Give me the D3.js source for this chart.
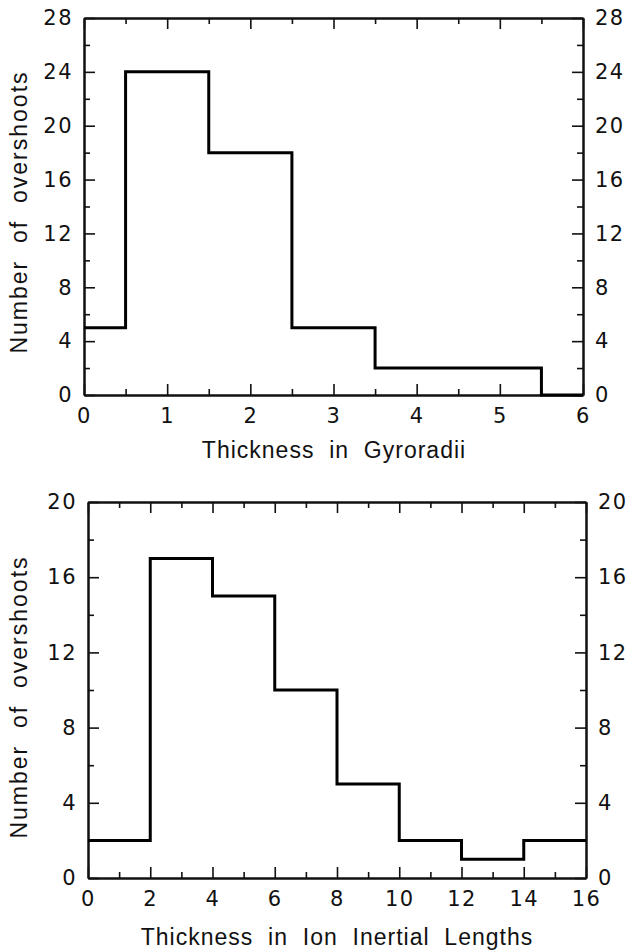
<!DOCTYPE html>
<html>
<head>
<meta charset="utf-8">
<script src="https://cdn.jsdelivr.net/npm/d3@7"></script>
<style>
  body { margin: 0; background: #fff; }
  svg text { font-family: "Liberation Sans", Arial, sans-serif; fill: #111; }
  svg .tick text { font-family: "DejaVu Sans", sans-serif; }
</style>
</head>
<body>
<div id="chart"></div>
<script>
// top panel: thickness in gyroradii
const gyroEdges = [0, 0.5, 1.5, 2.5, 3.5, 4.5, 5.5, 6];
const gyroCounts = [5, 24, 18, 5, 2, 2, 0];
const gyroXTicks = [0, 1, 2, 3, 4, 5, 6];
const gyroXMinor = [0.5, 1.5, 2.5, 3.5, 4.5, 5.5];
const gyroYTicks = [0, 4, 8, 12, 16, 20, 24, 28];
const gyroYMinor = [2, 6, 10, 14, 18, 22, 26];

// bottom panel: thickness in ion inertial lengths
const ionEdges = [0, 2, 4, 6, 8, 10, 12, 14, 16];
const ionCounts = [2, 17, 15, 10, 5, 2, 1, 2];
const ionXTicks = [0, 2, 4, 6, 8, 10, 12, 14, 16];
const ionXMinor = [1, 3, 5, 7, 9, 11, 13, 15];
const ionYTicks = [0, 4, 8, 12, 16, 20];
const ionYMinor = [2, 6, 10, 14, 18];

const W = 627, H = 951;
const svg = d3.select('#chart').append('svg')
    .attr('width', W)
    .attr('height', H);

function drawPanel(cfg) {
    const x = d3.scaleLinear().domain(cfg.xDomain).range([cfg.left, cfg.right]);
    const y = d3.scaleLinear().domain(cfg.yDomain).range([cfg.bottom, cfg.top]);
    const g = svg.append('g');
    const fmt = d3.format('d');

    const major = 11, minor = 6;

    // bottom axis (labels) + top axis (ticks only)
    g.append('g').attr('transform', `translate(0,${cfg.bottom})`)
        .call(d3.axisBottom(x).tickValues(cfg.xTicks).tickFormat(fmt).tickSize(-major).tickPadding(13).tickSizeOuter(0));
    g.append('g').attr('transform', `translate(0,${cfg.bottom})`)
        .call(d3.axisBottom(x).tickValues(cfg.xMinor).tickSize(-minor).tickFormat('').tickSizeOuter(0));
    g.append('g').attr('transform', `translate(0,${cfg.top})`)
        .call(d3.axisTop(x).tickValues(cfg.xTicks).tickSize(-major).tickFormat('').tickSizeOuter(0));
    g.append('g').attr('transform', `translate(0,${cfg.top})`)
        .call(d3.axisTop(x).tickValues(cfg.xMinor).tickSize(-minor).tickFormat('').tickSizeOuter(0));

    // left and right axes, labels on both
    g.append('g').attr('transform', `translate(${cfg.left},0)`)
        .call(d3.axisLeft(y).tickValues(cfg.yTicks).tickFormat(fmt).tickSize(-major).tickPadding(11).tickSizeOuter(0));
    g.append('g').attr('transform', `translate(${cfg.left},0)`)
        .call(d3.axisLeft(y).tickValues(cfg.yMinor).tickSize(-minor).tickFormat('').tickSizeOuter(0));
    g.append('g').attr('transform', `translate(${cfg.right},0)`)
        .call(d3.axisRight(y).tickValues(cfg.yTicks).tickFormat(fmt).tickSize(-major).tickPadding(12).tickSizeOuter(0));
    g.append('g').attr('transform', `translate(${cfg.right},0)`)
        .call(d3.axisRight(y).tickValues(cfg.yMinor).tickSize(-minor).tickFormat('').tickSizeOuter(0));

    g.selectAll('.domain').attr('stroke', '#111').attr('stroke-width', 2);
    g.selectAll('.tick line').attr('stroke', '#111').attr('stroke-width', 1.6);
    g.selectAll('.tick text')
        .attr('font-size', 21)
        .attr('letter-spacing', 1.5)
        .attr('fill', '#111');

    // histogram outline
    const pts = cfg.counts.map((c, i) => [cfg.edges[i], c]);
    pts.push([cfg.edges[cfg.edges.length - 1], cfg.counts[cfg.counts.length - 1]]);
    const line = d3.line()
        .x(d => x(d[0]))
        .y(d => y(d[1]))
        .curve(d3.curveStepAfter);
    g.append('path')
        .datum(pts)
        .attr('fill', 'none')
        .attr('stroke', '#000')
        .attr('stroke-width', 3)
        .attr('d', line);

    // axis titles
    g.append('text')
        .attr('x', cfg.xTitleX)
        .attr('y', cfg.xTitleY)
        .attr('text-anchor', 'middle')
        .attr('font-size', 23)
        .attr('letter-spacing', 1)
        .attr('xml:space', 'preserve')
        .text(cfg.xTitle);
    g.append('text')
        .attr('transform', `translate(27,${cfg.yTitleY}) rotate(-90)`)
        .attr('text-anchor', 'middle')
        .attr('font-size', 23)
        .attr('letter-spacing', 2)
        .attr('xml:space', 'preserve')
        .text('Number  of  overshoots');
}

drawPanel({
    edges: gyroEdges, counts: gyroCounts,
    xDomain: [0, 6], yDomain: [0, 28],
    xTicks: gyroXTicks, xMinor: gyroXMinor,
    yTicks: gyroYTicks, yMinor: gyroYMinor,
    left: 84, right: 583, top: 18, bottom: 395,
    xTitle: 'Thickness  in  Gyroradii', xTitleX: 334, xTitleY: 458,
    yTitleY: 212
});

drawPanel({
    edges: ionEdges, counts: ionCounts,
    xDomain: [0, 16], yDomain: [0, 20],
    xTicks: ionXTicks, xMinor: ionXMinor,
    yTicks: ionYTicks, yMinor: ionYMinor,
    left: 88, right: 586, top: 502, bottom: 878,
    xTitle: 'Thickness  in  Ion  Inertial  Lengths', xTitleX: 337, xTitleY: 945,
    yTitleY: 697
});
</script>
</body>
</html>
